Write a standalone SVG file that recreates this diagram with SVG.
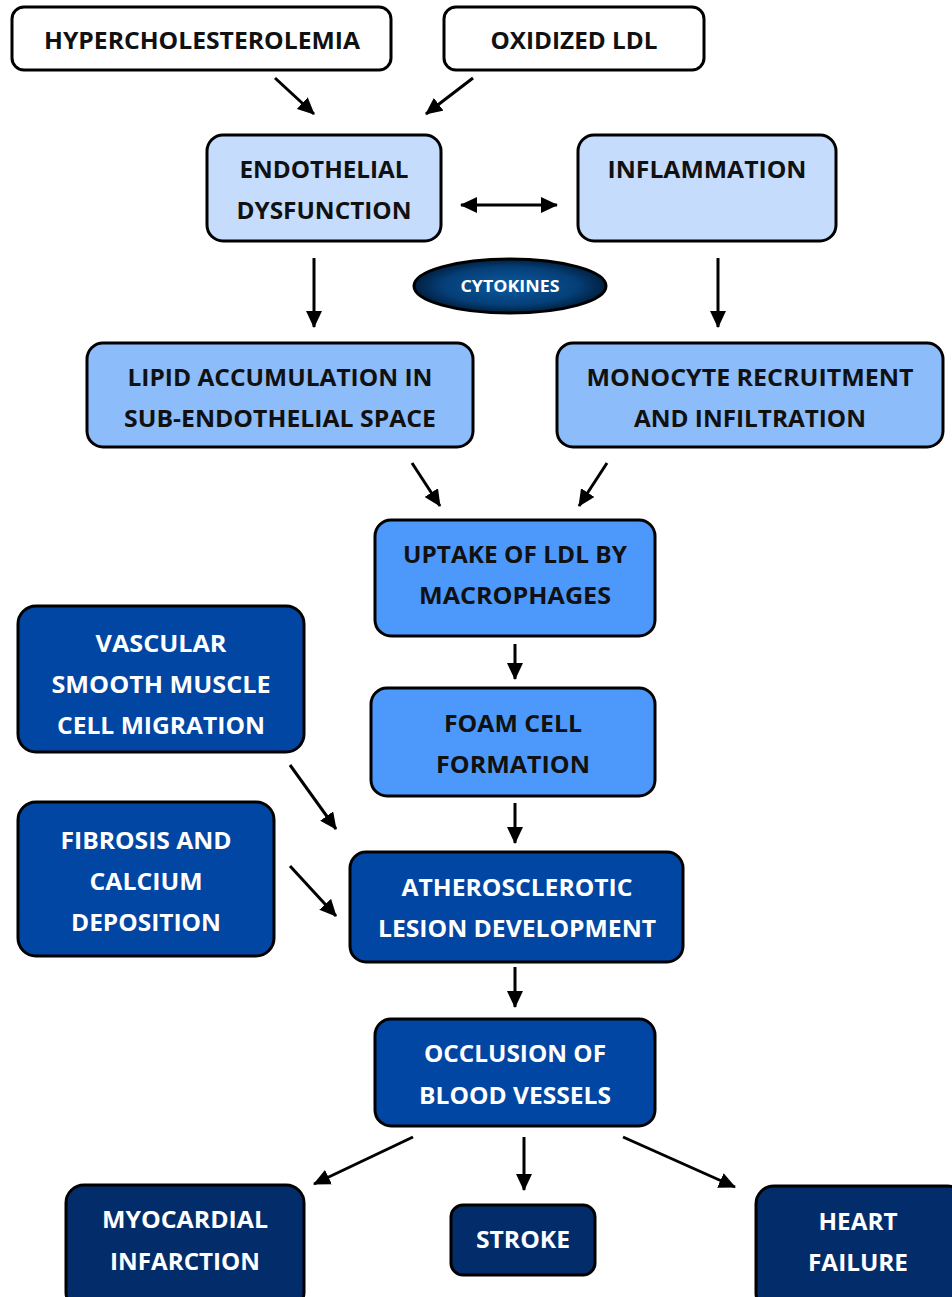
<svg xmlns="http://www.w3.org/2000/svg" width="952" height="1297" viewBox="0 0 952 1297">
<defs>
<style>
.box{stroke:#000;stroke-width:3}
.w{fill:#fff}
.l1{fill:#c6dcfc}
.l2{fill:#8dbcfa}
.l3{fill:#4d98fb}
.d1{fill:#0046a2}
.d2{fill:#022d6a}
text{font-family:"Open Sans","Liberation Sans",sans-serif;font-weight:bold;font-size:24px;text-anchor:middle}
.tk{fill:#111}
.tw{fill:#fff}
.conn line{stroke:#000;stroke-width:3}
</style>
<marker id="ah" markerUnits="userSpaceOnUse" markerWidth="18" markerHeight="16" refX="16" refY="8" orient="auto-start-reverse">
<path d="M0,0 L17,8 L0,16 z" fill="#000"/>
</marker>
<radialGradient id="cyt" cx="50%" cy="50%" r="50%">
<stop offset="0" stop-color="#0b5aa0"/>
<stop offset="0.7" stop-color="#053f78"/>
<stop offset="1" stop-color="#00203f"/>
</radialGradient>
</defs>

<g id="hypercholesterolemia">
<rect class="box w" x="12" y="7" width="379" height="63" rx="12"/>
<text class="tk" x="202" y="49" textLength="316" lengthAdjust="spacingAndGlyphs">HYPERCHOLESTEROLEMIA</text>
</g>
<g id="oxidized-ldl">
<rect class="box w" x="444" y="7" width="260" height="63" rx="12"/>
<text class="tk" x="574" y="49" textLength="167" lengthAdjust="spacingAndGlyphs">OXIDIZED LDL</text>
</g>
<g id="endothelial">
<rect class="box l1" x="207" y="135" width="234" height="106" rx="16"/>
<text class="tk" x="324" y="178" textLength="169" lengthAdjust="spacingAndGlyphs">ENDOTHELIAL</text>
<text class="tk" x="324" y="219" textLength="175" lengthAdjust="spacingAndGlyphs">DYSFUNCTION</text>
</g>
<g id="inflammation">
<rect class="box l1" x="578" y="135" width="258" height="106" rx="16"/>
<text class="tk" x="707" y="178" textLength="199" lengthAdjust="spacingAndGlyphs">INFLAMMATION</text>
</g>
<g id="cytokines">
<ellipse cx="510" cy="286" rx="96" ry="27" fill="url(#cyt)" stroke="#000" stroke-width="3"/>
<text class="tw" x="510" y="292" style="font-size:16px" textLength="99" lengthAdjust="spacingAndGlyphs">CYTOKINES</text>
</g>
<g id="lipid">
<rect class="box l2" x="87" y="343" width="386" height="104" rx="16"/>
<text class="tk" x="280" y="386" textLength="305" lengthAdjust="spacingAndGlyphs">LIPID ACCUMULATION IN</text>
<text class="tk" x="280" y="427" textLength="312" lengthAdjust="spacingAndGlyphs">SUB-ENDOTHELIAL SPACE</text>
</g>
<g id="monocyte">
<rect class="box l2" x="557" y="343" width="386" height="104" rx="16"/>
<text class="tk" x="750" y="386" textLength="327" lengthAdjust="spacingAndGlyphs">MONOCYTE RECRUITMENT</text>
<text class="tk" x="750" y="427" textLength="232" lengthAdjust="spacingAndGlyphs">AND INFILTRATION</text>
</g>
<g id="uptake">
<rect class="box l3" x="375" y="520" width="280" height="116" rx="16"/>
<text class="tk" x="515" y="563" textLength="224" lengthAdjust="spacingAndGlyphs">UPTAKE OF LDL BY</text>
<text class="tk" x="515" y="604" textLength="192" lengthAdjust="spacingAndGlyphs">MACROPHAGES</text>
</g>
<g id="foam-cell">
<rect class="box l3" x="371" y="688" width="284" height="108" rx="16"/>
<text class="tk" x="513" y="732" textLength="138" lengthAdjust="spacingAndGlyphs">FOAM CELL</text>
<text class="tk" x="513" y="773" textLength="154" lengthAdjust="spacingAndGlyphs">FORMATION</text>
</g>
<g id="vascular">
<rect class="box d1" x="18" y="606" width="286" height="146" rx="18"/>
<text class="tw" x="161" y="652" textLength="131" lengthAdjust="spacingAndGlyphs">VASCULAR</text>
<text class="tw" x="161" y="693" textLength="219" lengthAdjust="spacingAndGlyphs">SMOOTH MUSCLE</text>
<text class="tw" x="161" y="734" textLength="208" lengthAdjust="spacingAndGlyphs">CELL MIGRATION</text>
</g>
<g id="fibrosis">
<rect class="box d1" x="18" y="802" width="256" height="154" rx="18"/>
<text class="tw" x="146" y="849" textLength="171" lengthAdjust="spacingAndGlyphs">FIBROSIS AND</text>
<text class="tw" x="146" y="890" textLength="113" lengthAdjust="spacingAndGlyphs">CALCIUM</text>
<text class="tw" x="146" y="931" textLength="150" lengthAdjust="spacingAndGlyphs">DEPOSITION</text>
</g>
<g id="atherosclerotic">
<rect class="box d1" x="350" y="852" width="333" height="110" rx="16"/>
<text class="tw" x="517" y="896" textLength="231" lengthAdjust="spacingAndGlyphs">ATHEROSCLEROTIC</text>
<text class="tw" x="517" y="937" textLength="278" lengthAdjust="spacingAndGlyphs">LESION DEVELOPMENT</text>
</g>
<g id="occlusion">
<rect class="box d1" x="375" y="1019" width="280" height="107" rx="16"/>
<text class="tw" x="515" y="1062" textLength="182" lengthAdjust="spacingAndGlyphs">OCCLUSION OF</text>
<text class="tw" x="515" y="1104" textLength="192" lengthAdjust="spacingAndGlyphs">BLOOD VESSELS</text>
</g>
<g id="myocardial">
<rect class="box d2" x="66" y="1185" width="238" height="125" rx="18"/>
<text class="tw" x="185" y="1228" textLength="166" lengthAdjust="spacingAndGlyphs">MYOCARDIAL</text>
<text class="tw" x="185" y="1270" textLength="150" lengthAdjust="spacingAndGlyphs">INFARCTION</text>
</g>
<g id="stroke">
<rect class="box d2" x="451" y="1205" width="144" height="70" rx="12"/>
<text class="tw" x="523" y="1248" textLength="94" lengthAdjust="spacingAndGlyphs">STROKE</text>
</g>
<g id="heart-failure">
<rect class="box d2" x="756" y="1186" width="210" height="125" rx="18"/>
<text class="tw" x="858" y="1230" textLength="79" lengthAdjust="spacingAndGlyphs">HEART</text>
<text class="tw" x="858" y="1271" textLength="100" lengthAdjust="spacingAndGlyphs">FAILURE</text>
</g>

<g id="connectors" class="conn">
<line x1="275" y1="78" x2="314" y2="114" marker-end="url(#ah)"/>
<line x1="473" y1="78" x2="426" y2="114" marker-end="url(#ah)"/>
<line x1="461" y1="205" x2="557" y2="205" marker-start="url(#ah)" marker-end="url(#ah)"/>
<line x1="314" y1="258" x2="314" y2="327" marker-end="url(#ah)"/>
<line x1="718" y1="258" x2="718" y2="327" marker-end="url(#ah)"/>
<line x1="412" y1="463" x2="440" y2="506" marker-end="url(#ah)"/>
<line x1="607" y1="463" x2="579" y2="506" marker-end="url(#ah)"/>
<line x1="515" y1="644" x2="515" y2="679" marker-end="url(#ah)"/>
<line x1="515" y1="803" x2="515" y2="843" marker-end="url(#ah)"/>
<line x1="290" y1="765" x2="336" y2="829" marker-end="url(#ah)"/>
<line x1="290" y1="866" x2="336" y2="916" marker-end="url(#ah)"/>
<line x1="515" y1="967" x2="515" y2="1007" marker-end="url(#ah)"/>
<line x1="413" y1="1137" x2="314" y2="1184" marker-end="url(#ah)"/>
<line x1="524" y1="1137" x2="524" y2="1190" marker-end="url(#ah)"/>
<line x1="623" y1="1137" x2="735" y2="1187" marker-end="url(#ah)"/>
</g>
</svg>
